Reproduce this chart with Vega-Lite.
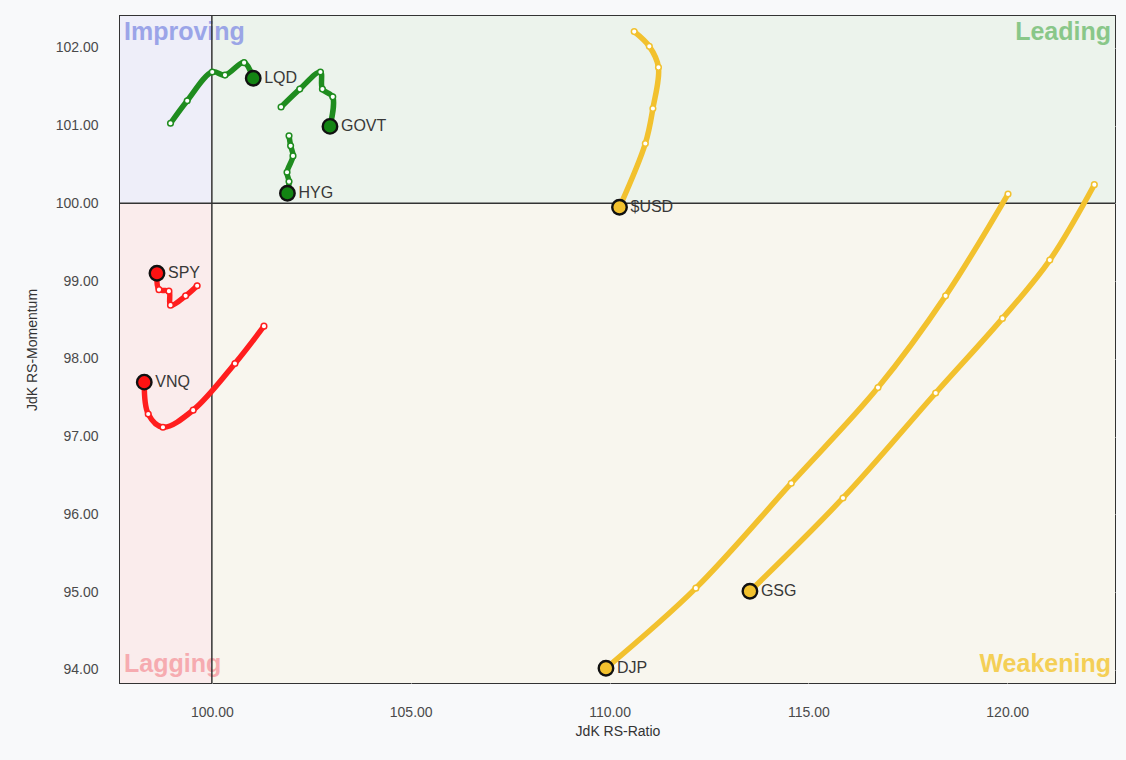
{
  "$schema": "https://vega.github.io/schema/vega-lite/v6.json",
  "autosize": "none",
  "width": 995,
  "height": 667,
  "padding": {"left": 120, "top": 16, "right": 11, "bottom": 77},
  "background": "#f8f9fa",
  "config": {
    "view": {"stroke": "#333333", "strokeWidth": 2},
    "font": "Liberation Sans",
    "axis": {"gridColor": "#e2e2e2", "gridWidth": 1, "domain": false, "ticks": false, "labelFont": "Liberation Sans", "labelFontSize": 14, "labelColor": "#4a4a4a", "titleFont": "Liberation Sans", "titleFontSize": 14, "titleFontWeight": "normal", "titleColor": "#333333"}
  },
  "datasets": {
    "quads": [
      {"q": "Improving", "x1": 97.69, "x2": 100, "y1": 100, "y2": 102.41},
      {"q": "Leading", "x1": 100, "x2": 122.71, "y1": 100, "y2": 102.41},
      {"q": "Lagging", "x1": 97.69, "x2": 100, "y1": 93.83, "y2": 100},
      {"q": "Weakening", "x1": 100, "x2": 122.71, "y1": 93.83, "y2": 100}
    ],
    "qlabels": [
      {"q": "Improving", "side": "left", "x": 97.69, "y": 102.2},
      {"q": "Leading", "side": "right", "x": 122.71, "y": 102.2},
      {"q": "Lagging", "side": "left", "x": 97.69, "y": 94.08},
      {"q": "Weakening", "side": "right", "x": 122.71, "y": 94.08}
    ],
    "rrg": [
      {"ticker": "LQD", "quad": "Leading", "i": 1, "ratio": 98.96, "mom": 101.03},
      {"ticker": "LQD", "quad": "Leading", "i": 2, "ratio": 99.38, "mom": 101.32},
      {"ticker": "LQD", "quad": "Leading", "i": 3, "ratio": 100.01, "mom": 101.69},
      {"ticker": "LQD", "quad": "Leading", "i": 4, "ratio": 100.33, "mom": 101.65},
      {"ticker": "LQD", "quad": "Leading", "i": 5, "ratio": 100.81, "mom": 101.81},
      {"ticker": "LQD", "quad": "Leading", "i": 6, "ratio": 101.04, "mom": 101.61},
      {"ticker": "GOVT", "quad": "Leading", "i": 1, "ratio": 101.74, "mom": 101.24},
      {"ticker": "GOVT", "quad": "Leading", "i": 2, "ratio": 102.21, "mom": 101.47},
      {"ticker": "GOVT", "quad": "Leading", "i": 3, "ratio": 102.73, "mom": 101.69},
      {"ticker": "GOVT", "quad": "Leading", "i": 4, "ratio": 102.78, "mom": 101.47},
      {"ticker": "GOVT", "quad": "Leading", "i": 5, "ratio": 103.04, "mom": 101.37},
      {"ticker": "GOVT", "quad": "Leading", "i": 6, "ratio": 102.97, "mom": 100.99},
      {"ticker": "HYG", "quad": "Leading", "i": 1, "ratio": 101.94, "mom": 100.87},
      {"ticker": "HYG", "quad": "Leading", "i": 2, "ratio": 101.98, "mom": 100.74},
      {"ticker": "HYG", "quad": "Leading", "i": 3, "ratio": 102.04, "mom": 100.61},
      {"ticker": "HYG", "quad": "Leading", "i": 4, "ratio": 101.89, "mom": 100.40},
      {"ticker": "HYG", "quad": "Leading", "i": 5, "ratio": 101.94, "mom": 100.28},
      {"ticker": "HYG", "quad": "Leading", "i": 6, "ratio": 101.90, "mom": 100.13},
      {"ticker": "SPY", "quad": "Lagging", "i": 1, "ratio": 99.63, "mom": 98.94},
      {"ticker": "SPY", "quad": "Lagging", "i": 2, "ratio": 99.34, "mom": 98.81},
      {"ticker": "SPY", "quad": "Lagging", "i": 3, "ratio": 98.96, "mom": 98.69},
      {"ticker": "SPY", "quad": "Lagging", "i": 4, "ratio": 98.92, "mom": 98.87},
      {"ticker": "SPY", "quad": "Lagging", "i": 5, "ratio": 98.67, "mom": 98.89},
      {"ticker": "SPY", "quad": "Lagging", "i": 6, "ratio": 98.62, "mom": 99.10},
      {"ticker": "VNQ", "quad": "Lagging", "i": 1, "ratio": 101.31, "mom": 98.42},
      {"ticker": "VNQ", "quad": "Lagging", "i": 2, "ratio": 100.58, "mom": 97.94},
      {"ticker": "VNQ", "quad": "Lagging", "i": 3, "ratio": 99.53, "mom": 97.34},
      {"ticker": "VNQ", "quad": "Lagging", "i": 4, "ratio": 98.77, "mom": 97.12},
      {"ticker": "VNQ", "quad": "Lagging", "i": 5, "ratio": 98.40, "mom": 97.29},
      {"ticker": "VNQ", "quad": "Lagging", "i": 6, "ratio": 98.30, "mom": 97.70},
      {"ticker": "$USD", "quad": "Weakening", "i": 1, "ratio": 110.62, "mom": 102.21},
      {"ticker": "$USD", "quad": "Weakening", "i": 2, "ratio": 111.00, "mom": 102.02},
      {"ticker": "$USD", "quad": "Weakening", "i": 3, "ratio": 111.23, "mom": 101.75},
      {"ticker": "$USD", "quad": "Weakening", "i": 4, "ratio": 111.09, "mom": 101.22},
      {"ticker": "$USD", "quad": "Weakening", "i": 5, "ratio": 110.90, "mom": 100.77},
      {"ticker": "$USD", "quad": "Weakening", "i": 6, "ratio": 110.25, "mom": 99.95},
      {"ticker": "DJP", "quad": "Weakening", "i": 1, "ratio": 120.02, "mom": 100.12},
      {"ticker": "DJP", "quad": "Weakening", "i": 2, "ratio": 118.45, "mom": 98.81},
      {"ticker": "DJP", "quad": "Weakening", "i": 3, "ratio": 116.75, "mom": 97.63},
      {"ticker": "DJP", "quad": "Weakening", "i": 4, "ratio": 114.57, "mom": 96.40},
      {"ticker": "DJP", "quad": "Weakening", "i": 5, "ratio": 112.17, "mom": 95.05},
      {"ticker": "DJP", "quad": "Weakening", "i": 6, "ratio": 109.91, "mom": 94.02},
      {"ticker": "GSG", "quad": "Weakening", "i": 1, "ratio": 122.19, "mom": 100.24},
      {"ticker": "GSG", "quad": "Weakening", "i": 2, "ratio": 121.07, "mom": 99.27},
      {"ticker": "GSG", "quad": "Weakening", "i": 3, "ratio": 119.88, "mom": 98.52},
      {"ticker": "GSG", "quad": "Weakening", "i": 4, "ratio": 118.20, "mom": 97.56},
      {"ticker": "GSG", "quad": "Weakening", "i": 5, "ratio": 115.87, "mom": 96.21},
      {"ticker": "GSG", "quad": "Weakening", "i": 6, "ratio": 113.53, "mom": 95.01}
    ],
    "center": [{"ratio": 100, "mom": 100}]
  },
  "resolve": {"scale": {"color": "independent", "fill": "independent", "stroke": "independent"}},
  "layer": [
    {
      "data": {"name": "quads"},
      "mark": {"type": "rect"},
      "encoding": {
        "x": {"field": "x1", "type": "quantitative", "scale": {"domain": [97.69, 122.71], "nice": false, "zero": false}, "axis": {"values": [100, 105, 110, 115, 120], "format": ".2f", "title": "JdK RS-Ratio", "labelPadding": 22, "titlePadding": 5}},
        "x2": {"field": "x2"},
        "y": {"field": "y1", "type": "quantitative", "scale": {"domain": [93.83, 102.41], "nice": false, "zero": false}, "axis": {"values": [94, 95, 96, 97, 98, 99, 100, 101, 102], "format": ".2f", "title": "JdK RS-Momentum", "labelPadding": 22, "titlePadding": 16}},
        "y2": {"field": "y2"},
        "fill": {"field": "q", "type": "nominal", "legend": null, "scale": {"domain": ["Improving", "Leading", "Lagging", "Weakening"], "range": ["#eeeef9", "#ecf3ec", "#faecec", "#f8f6ee"]}}
      }
    },
    {
      "data": {"name": "qlabels"},
      "transform": [{"filter": "datum.side == 'left'"}],
      "mark": {"type": "text", "align": "left", "baseline": "middle", "dx": 4, "fontSize": 25, "fontWeight": "bold", "opacity": 0.85},
      "encoding": {
        "x": {"field": "x", "type": "quantitative"},
        "y": {"field": "y", "type": "quantitative"},
        "text": {"field": "q"},
        "color": {"field": "q", "type": "nominal", "legend": null, "scale": {"domain": ["Improving", "Leading", "Lagging", "Weakening"], "range": ["#8d98e6", "#78c078", "#f6a0a6", "#f4c93c"]}}
      }
    },
    {
      "data": {"name": "qlabels"},
      "transform": [{"filter": "datum.side == 'right'"}],
      "mark": {"type": "text", "align": "right", "baseline": "middle", "dx": -4, "fontSize": 25, "fontWeight": "bold", "opacity": 0.85},
      "encoding": {
        "x": {"field": "x", "type": "quantitative"},
        "y": {"field": "y", "type": "quantitative"},
        "text": {"field": "q"},
        "color": {"field": "q", "type": "nominal", "legend": null, "scale": {"domain": ["Improving", "Leading", "Lagging", "Weakening"], "range": ["#8d98e6", "#78c078", "#f6a0a6", "#f4c93c"]}}
      }
    },
    {
      "data": {"name": "center"},
      "mark": {"type": "rule", "color": "#333333", "strokeWidth": 1.5},
      "encoding": {"x": {"field": "ratio", "type": "quantitative"}}
    },
    {
      "data": {"name": "center"},
      "mark": {"type": "rule", "color": "#333333", "strokeWidth": 1.5},
      "encoding": {"y": {"field": "mom", "type": "quantitative"}}
    },
    {
      "data": {"name": "rrg"},
      "mark": {"type": "line", "interpolate": "catmull-rom", "strokeWidth": 5.5, "strokeCap": "round", "strokeJoin": "round"},
      "encoding": {
        "x": {"field": "ratio", "type": "quantitative"},
        "y": {"field": "mom", "type": "quantitative"},
        "detail": {"field": "ticker"},
        "order": {"field": "i", "type": "quantitative"},
        "color": {"field": "quad", "type": "nominal", "legend": null, "scale": {"domain": ["Leading", "Lagging", "Weakening"], "range": ["#1f8c1f", "#ff1e1e", "#f2c12e"]}}
      }
    },
    {
      "data": {"name": "rrg"},
      "transform": [{"filter": "datum.i < 6"}],
      "mark": {"type": "point", "filled": false, "fill": "white", "fillOpacity": 1, "strokeWidth": 1.5, "size": 32, "opacity": 1},
      "encoding": {
        "x": {"field": "ratio", "type": "quantitative"},
        "y": {"field": "mom", "type": "quantitative"},
        "stroke": {"field": "quad", "type": "nominal", "legend": null, "scale": {"domain": ["Leading", "Lagging", "Weakening"], "range": ["#1f8c1f", "#ff1e1e", "#f2c12e"]}}
      }
    },
    {
      "data": {"name": "rrg"},
      "transform": [{"filter": "datum.i == 6"}],
      "mark": {"type": "point", "filled": true, "stroke": "#111111", "strokeWidth": 2.4, "size": 210, "opacity": 1},
      "encoding": {
        "x": {"field": "ratio", "type": "quantitative"},
        "y": {"field": "mom", "type": "quantitative"},
        "fill": {"field": "quad", "type": "nominal", "legend": null, "scale": {"domain": ["Leading", "Lagging", "Weakening"], "range": ["#138413", "#ff1212", "#f2c12e"]}}
      }
    },
    {
      "data": {"name": "rrg"},
      "transform": [{"filter": "datum.i == 6"}],
      "mark": {"type": "text", "align": "left", "baseline": "middle", "dx": 11, "fontSize": 16, "color": "#383838"},
      "encoding": {
        "x": {"field": "ratio", "type": "quantitative"},
        "y": {"field": "mom", "type": "quantitative"},
        "text": {"field": "ticker"}
      }
    }
  ]
}
